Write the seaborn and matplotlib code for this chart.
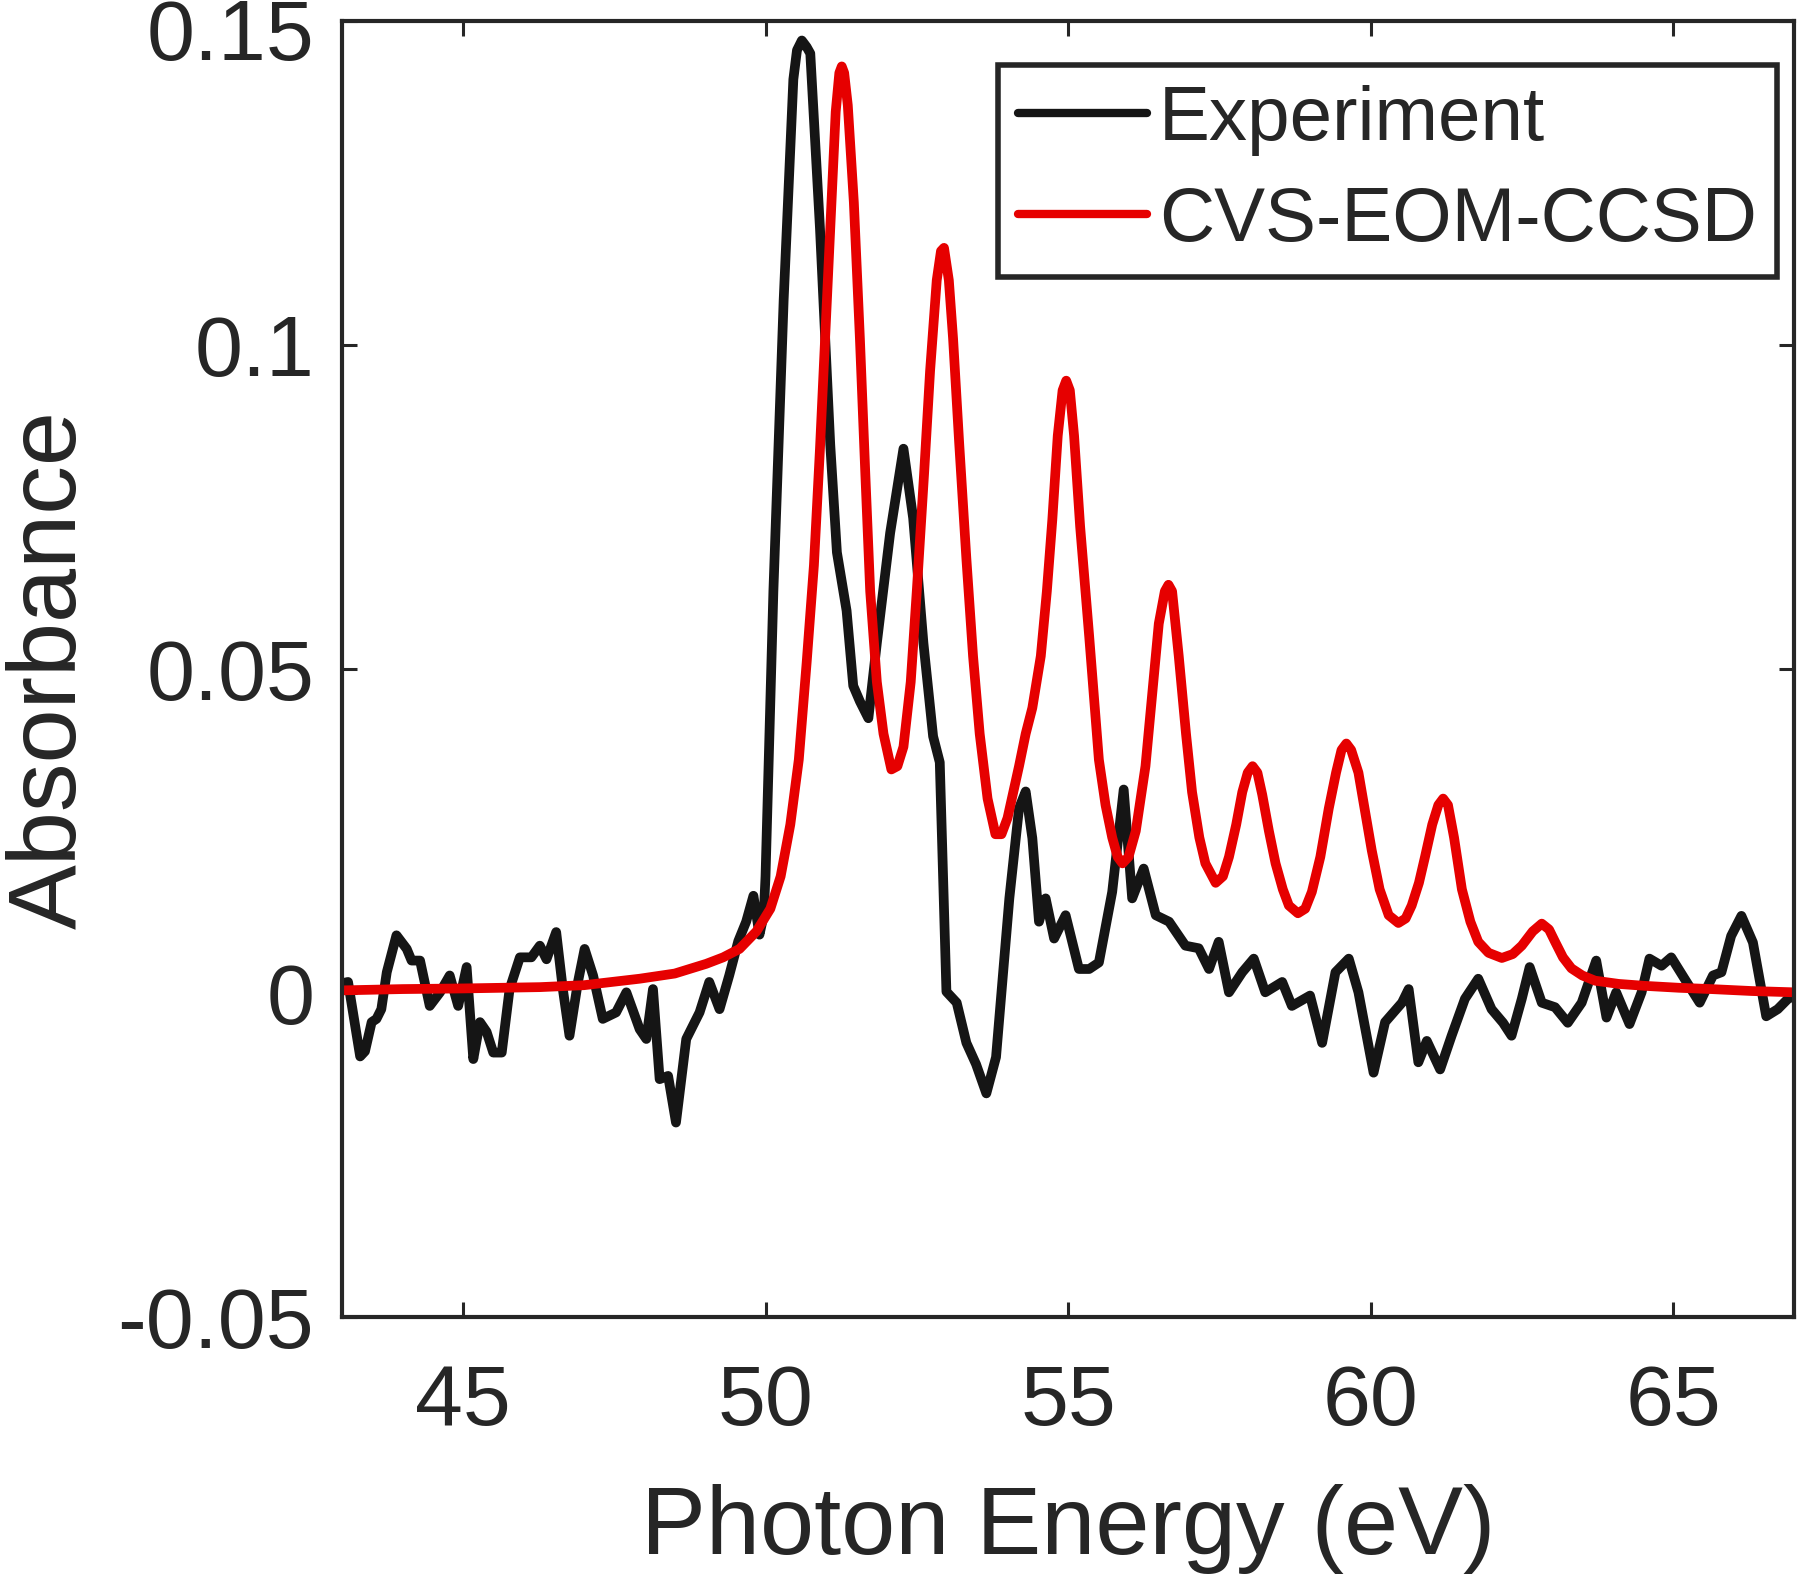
import seaborn as sns
import pandas as pd
import matplotlib.pyplot as plt
from matplotlib.transforms import ScaledTranslation

exp_energy = [43.00, 43.10, 43.30, 43.38, 43.49, 43.57, 43.65, 43.74, 43.90, 44.07,
              44.15, 44.29, 44.45, 44.62, 44.78, 44.92, 45.06, 45.17, 45.28, 45.39,
              45.50, 45.64, 45.77, 45.94, 46.13, 46.27, 46.38, 46.54, 46.65, 46.76,
              46.90, 47.01, 47.15, 47.31, 47.53, 47.70, 47.92, 48.03, 48.14, 48.25,
              48.39, 48.52, 48.69, 48.91, 49.07, 49.24, 49.40, 49.55, 49.68, 49.80,
              49.90, 49.97, 50.00, 50.13, 50.30, 50.46, 50.52, 50.60, 50.68, 50.74,
              50.90, 51.07, 51.18, 51.34, 51.45, 51.56, 51.70, 51.84, 52.06, 52.28,
              52.44, 52.61, 52.77, 52.88, 52.99, 53.16, 53.32, 53.48, 53.65, 53.81,
              54.03, 54.19, 54.30, 54.41, 54.52, 54.63, 54.77, 54.96, 55.18, 55.35,
              55.51, 55.73, 55.92, 56.06, 56.25, 56.45, 56.67, 56.94, 57.16, 57.33,
              57.49, 57.66, 57.88, 58.07, 58.26, 58.54, 58.70, 59.00, 59.20, 59.42,
              59.64, 59.80, 60.05, 60.24, 60.52, 60.63, 60.79, 60.93, 61.15, 61.34,
              61.56, 61.78, 62.00, 62.19, 62.33, 62.50, 62.63, 62.83, 63.05, 63.26,
              63.49, 63.73, 63.90, 64.06, 64.28, 64.48, 64.61, 64.81, 64.97, 65.19,
              65.44, 65.66, 65.80, 65.96, 66.13, 66.32, 66.54, 66.73, 66.90, 67.00]
exp_absorb = [0.0015, 0.0017, -0.0098, -0.0090, -0.0045, -0.0040, -0.0025, 0.0032, 0.0089, 0.0068,
              0.0050, 0.0050, -0.0020, 0.0001, 0.0027, -0.0020, 0.0040, -0.0102, -0.0045, -0.0060,
              -0.0092, -0.0092, 0.0006, 0.0055, 0.0055, 0.0073, 0.0052, 0.0094, 0.0006, -0.0066,
              0.0017, 0.0068, 0.0027, -0.0040, -0.0030, 0.0001, -0.0056, -0.0071, 0.0006, -0.0133,
              -0.0128, -0.0200, -0.0071, -0.0030, 0.0017, -0.0025, 0.0027, 0.0080, 0.0110, 0.0150,
              0.0090, 0.0120, 0.0180, 0.0620, 0.1070, 0.1410, 0.1455, 0.1470, 0.1460, 0.1450,
              0.1180, 0.0846, 0.0680, 0.0590, 0.0474, 0.0450, 0.0424, 0.0540, 0.0710, 0.0840,
              0.0733, 0.0540, 0.0396, 0.0356, 0.0002, -0.0015, -0.0077, -0.0110, -0.0155, -0.0099,
              0.0146, 0.0285, 0.0311, 0.0239, 0.0110, 0.0146, 0.0084, 0.0120, 0.0037, 0.0037,
              0.0047, 0.0156, 0.0314, 0.0146, 0.0192, 0.0120, 0.0110, 0.0073, 0.0069, 0.0037,
              0.0079, 0.0001, 0.0032, 0.0053, 0.0001, 0.0017, -0.0020, -0.0004, -0.0077, 0.0032,
              0.0053, 0.0001, -0.0123, -0.0045, -0.0015, 0.0006, -0.0107, -0.0074, -0.0118, -0.0066,
              -0.0009, 0.0022, -0.0025, -0.0046, -0.0066, -0.0009, 0.0040, -0.0015, -0.0022, -0.0046,
              -0.0015, 0.0050, -0.0038, 0.0001, -0.0048, 0.0001, 0.0053, 0.0042, 0.0055, 0.0022,
              -0.0015, 0.0027, 0.0032, 0.0088, 0.0119, 0.0078, -0.0036, -0.0025, -0.0009, -0.0005]

# CVS-EOM-CCSD spectrum
calc_energy = [43.00, 44.00, 45.00, 46.27, 47.00, 47.92, 48.50, 49.02, 49.30, 49.57,
               49.85, 50.08, 50.25, 50.41, 50.55, 50.68, 50.80, 50.90, 51.00, 51.07,
               51.16, 51.22, 51.26, 51.30, 51.36, 51.46, 51.56, 51.65, 51.73, 51.84,
               51.95, 52.08, 52.18, 52.28, 52.40, 52.50, 52.62, 52.72, 52.83, 52.90,
               52.95, 53.03, 53.10, 53.20, 53.32, 53.43, 53.54, 53.67, 53.80, 53.90,
               54.00, 54.19, 54.30, 54.41, 54.55, 54.65, 54.74, 54.83, 54.91, 54.97,
               55.03, 55.10, 55.20, 55.35, 55.51, 55.62, 55.73, 55.82, 55.90, 56.00,
               56.12, 56.28, 56.40, 56.50, 56.60, 56.66, 56.72, 56.83, 56.95, 57.05,
               57.17, 57.27, 57.44, 57.56, 57.66, 57.78, 57.88, 57.97, 58.05, 58.13,
               58.21, 58.32, 58.43, 58.55, 58.65, 58.80, 58.92, 59.03, 59.17, 59.31,
               59.43, 59.52, 59.60, 59.68, 59.80, 59.91, 60.02, 60.15, 60.30, 60.46,
               60.58, 60.68, 60.80, 60.90, 61.02, 61.12, 61.20, 61.28, 61.38, 61.51,
               61.65, 61.78, 61.95, 62.17, 62.35, 62.50, 62.68, 62.83, 62.95, 63.05,
               63.18, 63.32, 63.50, 63.71, 64.10, 64.53, 65.10, 65.63, 66.30, 67.00]
calc_absorb = [0.0004, 0.0006, 0.0007, 0.0009, 0.0012, 0.0022, 0.0030, 0.0045, 0.0055, 0.0068,
               0.0095, 0.0130, 0.0180, 0.0260, 0.0360, 0.0510, 0.0660, 0.0840, 0.1040, 0.1180,
               0.1360, 0.1420, 0.1430, 0.1420, 0.1370, 0.1220, 0.1010, 0.0800, 0.0620, 0.0480,
               0.0400, 0.0345, 0.0350, 0.0380, 0.0480, 0.0620, 0.0800, 0.0960, 0.1100, 0.1145,
               0.1150, 0.1100, 0.1010, 0.0850, 0.0670, 0.0520, 0.0400, 0.0300, 0.0245, 0.0245,
               0.0270, 0.0350, 0.0400, 0.0440, 0.0520, 0.0620, 0.0730, 0.0860, 0.0930, 0.0945,
               0.0930, 0.0860, 0.0720, 0.0550, 0.0360, 0.0290, 0.0240, 0.0210, 0.0200, 0.0210,
               0.0250, 0.0350, 0.0470, 0.0570, 0.0620, 0.0630, 0.0620, 0.0520, 0.0400, 0.0310,
               0.0240, 0.0200, 0.0170, 0.0180, 0.0210, 0.0260, 0.0310, 0.0340, 0.0350, 0.0340,
               0.0306, 0.0250, 0.0200, 0.0160, 0.0135, 0.0123, 0.0130, 0.0156, 0.0210, 0.0285,
               0.0340, 0.0375, 0.0385, 0.0375, 0.0340, 0.0280, 0.0220, 0.0160, 0.0120, 0.0108,
               0.0115, 0.0135, 0.0170, 0.0210, 0.0260, 0.0290, 0.0300, 0.0290, 0.0240, 0.0160,
               0.0110, 0.0079, 0.0062, 0.0054, 0.0060, 0.0073, 0.0095, 0.0107, 0.0098, 0.0079,
               0.0055, 0.0038, 0.0027, 0.0019, 0.0014, 0.0011, 0.0008, 0.0006, 0.0003, 0.0001]

x_ticks = [45, 50, 55, 60, 65]
y_ticks = [-0.05, 0, 0.05, 0.1, 0.15]
y_tick_labels = ['-0.05', '0', '0.05', '0.1', '0.15']

sns.set_style("ticks")
plt.rcParams['font.family'] = ['Liberation Sans', 'DejaVu Sans']
ink = '#262626'

exp_df = pd.DataFrame({'Energy': exp_energy, 'Absorbance': exp_absorb})
calc_df = pd.DataFrame({'Energy': calc_energy, 'Absorbance': calc_absorb})

fig = plt.figure(figsize=(18, 15.84), dpi=100)
ax = fig.add_axes([0.190, 0.1686, 0.8067, 0.8181])

sns.lineplot(data=exp_df, x='Energy', y='Absorbance', ax=ax, color='#151515',
             linewidth=7, sort=False, estimator=None, label='Experiment')
sns.lineplot(data=calc_df, x='Energy', y='Absorbance', ax=ax, color='#e60000',
             linewidth=7, sort=False, estimator=None, label='CVS-EOM-CCSD')
for line in ax.get_lines():
    line.set_solid_joinstyle('round')
    line.set_solid_capstyle('round')

ax.set_xlim(43, 67)
ax.set_ylim(-0.05, 0.15)
ax.set_xticks(x_ticks)
ax.set_yticks(y_ticks)
ax.set_yticklabels(y_tick_labels)
ax.tick_params(direction='in', length=11, width=2.2, colors=ink, labelsize=62,
               top=True, right=True)
ax.tick_params(axis='x', pad=33)
ax.tick_params(axis='y', pad=20)
for s in ax.spines.values():
    s.set_visible(True)
    s.set_color(ink)
    s.set_linewidth(3)

# the top label sits right at the figure edge; nudge it down so it stays whole
top_lab = ax.yaxis.get_major_ticks()[-1].label1
top_lab.set_transform(top_lab.get_transform() + ScaledTranslation(0, -6 / 72, fig.dpi_scale_trans))

ax.set_xlabel('Photon Energy (eV)', fontsize=70, color=ink, labelpad=30)
ax.set_ylabel('Absorbance', fontsize=70, color=ink, labelpad=16)

leg = ax.legend(loc='upper right', bbox_to_anchor=(0.988, 0.966), borderaxespad=0,
                fontsize=55, fancybox=False, framealpha=1, edgecolor=ink,
                handlelength=1.7, handletextpad=0.15, labelspacing=0.39,
                borderpad=0.26)
leg.get_frame().set_linewidth(4)
for line in leg.get_lines():
    line.set_linewidth(6)

fig.savefig('out.png', dpi=100)
